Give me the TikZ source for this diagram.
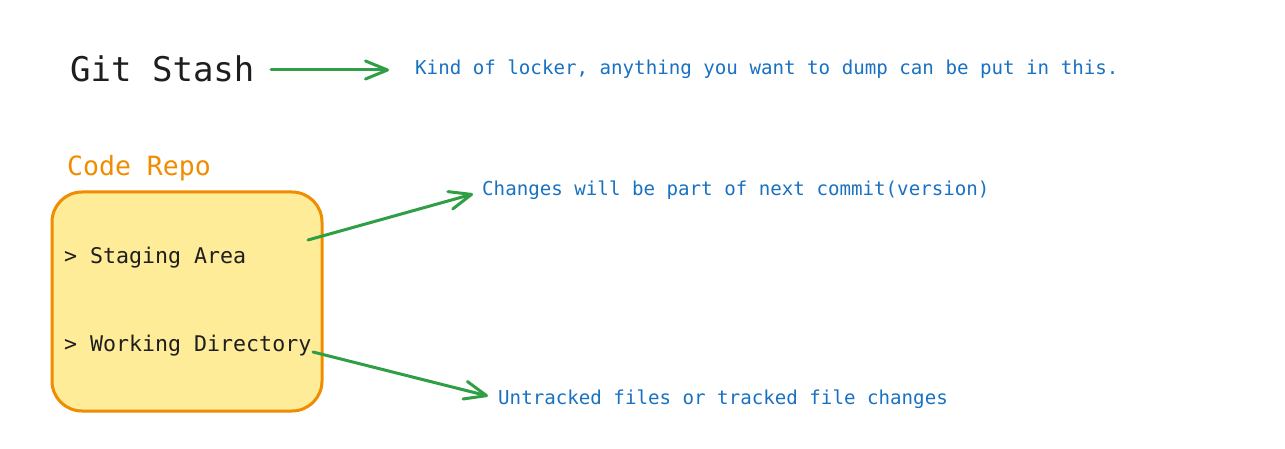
\documentclass[tikz,border=0pt]{standalone}
\usepackage{fontspec}
\setmonofont{DejaVu Sans Mono}
\usetikzlibrary{arrows.meta}
\definecolor{ink}{HTML}{1E1E1E}
\definecolor{blu}{HTML}{1971C2}
\definecolor{org}{HTML}{F08C00}
\definecolor{yel}{HTML}{FFEC99}
\definecolor{grn}{HTML}{2F9E44}
\tikzset{
  txt/.style={inner sep=0pt, anchor=base west, font=\ttfamily},
  note/.style={txt, text=blu, font=\ttfamily\fontsize{19.15}{22}\selectfont},
  item/.style={txt, text=ink, font=\ttfamily\fontsize{21.6}{26}\selectfont},
  arr/.style={draw=grn, line width=3pt, line cap=round, -{Straight Barb[length=22pt,width=18pt,line width=3pt,round]}},
  repo/.style={draw=org, fill=yel, line width=3pt, rounded corners=30pt}
}
\begin{document}
\begin{tikzpicture}[x=1pt,y=-1pt]
\useasboundingbox (0,0) rectangle (1285,449);
\node[txt, text=ink, font=\ttfamily\fontsize{34}{40}\selectfont] (gs) at (70,82) {Git Stash};
\node[note] (kind) at (415,75) {Kind of locker, anything you want to dump can be put in this.};
\node[txt, text=org, font=\ttfamily\fontsize{26.5}{32}\selectfont] (cr) at (67,175.5) {Code Repo};
\draw[repo] (52,192) rectangle (322,411);
\node[item] (sa) at (64,263.3) {> Staging Area};
\node[item] (wd) at (64,351.7) {> Working Directory};
\node[note] (ch) at (482,196) {Changes will be part of next commit(version)};
\node[note] (ut) at (498,404) {Untracked files or tracked file changes};
\coordinate (a1s) at (271,70);
\coordinate (a1e) at (389,70);
\coordinate (a2s) at (308,240);
\coordinate (a2e) at (473,194);
\coordinate (a3s) at (313,352);
\coordinate (a3e) at (488,396);
\draw[arr] (a1s) -- (a1e);
\draw[arr] (a2s) -- (a2e);
\draw[arr] (a3s) -- (a3e);
\end{tikzpicture}
\end{document}
